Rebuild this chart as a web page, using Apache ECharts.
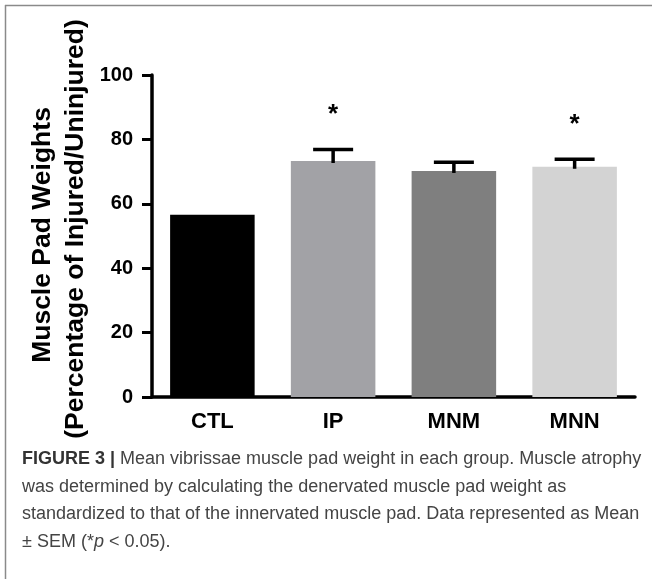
<!DOCTYPE html>
<html>
<head>
<meta charset="utf-8">
<script src="https://cdn.jsdelivr.net/npm/echarts@6/dist/echarts.min.js"></script>
<style>
  html, body { margin: 0; padding: 0; background: #fff; }
  #chart { width: 652px; height: 579px; }
</style>
</head>
<body>
<div id="chart"></div>
<script>
// ---- data ----
var categories = ['CTL', 'IP', 'MNM', 'MNN'];
var meanValues = [56.6, 73.3, 70.2, 71.5];
var semValues = [0, 3.6, 2.7, 2.3];
var significant = [false, true, false, true];
var barColors = ['#000000', '#a2a2a6', '#7f7f7f', '#d3d3d3'];
var yTicks = [0, 20, 40, 60, 80, 100];
var yTitleLine1 = 'Muscle Pad Weights';
var yTitleLine2 = '(Percentage of Injured/Uninjured)';
var captionBold = 'FIGURE 3 |';
var captionLines = [
  ' Mean vibrissae muscle pad weight in each group. Muscle atrophy',
  'was determined by calculating the denervated muscle pad weight as',
  'standardized to that of the innervated muscle pad. Data represented as Mean',
  '\u00B1 SEM (*p < 0.05).'
];

var FONT = '"Liberation Sans", Arial, Helvetica, sans-serif';
var CAP_SIZE = 18;

var chart = echarts.init(document.getElementById('chart'), null, { renderer: 'canvas' });

var errData = categories.map(function (c, i) {
  return [i, meanValues[i], meanValues[i] + semValues[i], significant[i] ? 1 : 0];
});

var captionGraphics = [
  {
    type: 'text', left: 22, top: 450,
    style: {
      text: '{b|' + captionBold + '}{r|' + captionLines[0] + '}',
      rich: {
        b: { fontFamily: FONT, fontSize: CAP_SIZE, fontWeight: 'bold', fill: '#333' },
        r: { fontFamily: FONT, fontSize: CAP_SIZE, fill: '#444' }
      }
    }
  }
];
for (var k = 1; k < captionLines.length; k++) {
  var txt = captionLines[k];
  var rich = {
    r: { fontFamily: FONT, fontSize: CAP_SIZE, fill: '#444' },
    i: { fontFamily: FONT, fontSize: CAP_SIZE, fill: '#444', fontStyle: 'italic' }
  };
  var content = txt.indexOf('*p') >= 0 ? '{r|' + txt.replace('*p', '*}{i|p}{r|') + '}' : '{r|' + txt + '}';
  captionGraphics.push({
    type: 'text', left: 22, top: 450 + k * 27.7,
    style: { text: content, rich: rich }
  });
}

var option = {
  animation: false,
  grid: { left: 152, right: 17, top: 75, bottom: 182, containLabel: false },
  xAxis: {
    type: 'category',
    data: categories,
    axisLine: { lineStyle: { color: '#000', width: 3.5 } },
    axisTick: { alignWithLabel: true, length: 8, lineStyle: { color: '#000', width: 3 } },
    axisLabel: { color: '#000', fontFamily: FONT, fontSize: 22, fontWeight: 'bold', margin: 14 }
  },
  yAxis: {
    type: 'value',
    min: yTicks[0], max: yTicks[yTicks.length - 1], interval: 20,
    splitLine: { show: false },
    axisLine: { show: true, lineStyle: { color: '#000', width: 3.5 } },
    axisTick: { show: true, length: 10, lineStyle: { color: '#000', width: 3 } },
    axisLabel: { color: '#000', fontFamily: FONT, fontSize: 20, fontWeight: 'bold', margin: 19 }
  },
  series: [
    {
      type: 'bar',
      data: meanValues.map(function (v, i) { return { value: v, itemStyle: { color: barColors[i] } }; }),
      barWidth: '70%',
      z: 2
    },
    {
      type: 'custom',
      data: errData,
      z: 3,
      renderItem: function (params, api) {
        var i = api.value(0);
        var mean = api.value(1);
        var hi = api.value(2);
        var sig = api.value(3);
        var pMean = api.coord([i, mean]);
        var pHi = api.coord([i, hi]);
        var children = [];
        if (hi > mean) {
          var half = 20;
          children.push({
            type: 'line',
            shape: { x1: pMean[0], y1: pMean[1] + 2, x2: pHi[0], y2: pHi[1] },
            style: { stroke: '#000', lineWidth: 3.5 }
          });
          children.push({
            type: 'line',
            shape: { x1: pHi[0] - half, y1: pHi[1], x2: pHi[0] + half, y2: pHi[1] },
            style: { stroke: '#000', lineWidth: 3.5 }
          });
        }
        if (sig) {
          children.push({
            type: 'text',
            style: {
              x: pHi[0], y: pHi[1] - 35,
              text: '*', fontFamily: FONT, fontSize: 26, fontWeight: 'bold', fill: '#000',
              align: 'center', verticalAlign: 'middle'
            }
          });
        }
        return { type: 'group', children: children };
      }
    }
  ],
  graphic: [
    { type: 'line', shape: { x1: 5.5, y1: 5, x2: 5.5, y2: 579 }, style: { stroke: '#8a8a8a', lineWidth: 1.5 } },
    { type: 'line', shape: { x1: 5, y1: 5.5, x2: 652, y2: 5.5 }, style: { stroke: '#8a8a8a', lineWidth: 1.5 } },
    {
      type: 'text', x: 43, y: 235, rotation: Math.PI / 2,
      style: { text: yTitleLine1, fontFamily: FONT, fontSize: 26.5, fontWeight: 'bold', fill: '#000', align: 'center', verticalAlign: 'middle' }
    },
    {
      type: 'text', x: 76, y: 229, rotation: Math.PI / 2,
      style: { text: yTitleLine2, fontFamily: FONT, fontSize: 26.5, fontWeight: 'bold', fill: '#000', align: 'center', verticalAlign: 'middle' }
    }
  ].concat(captionGraphics)
};

chart.setOption(option);
</script>
</body>
</html>
